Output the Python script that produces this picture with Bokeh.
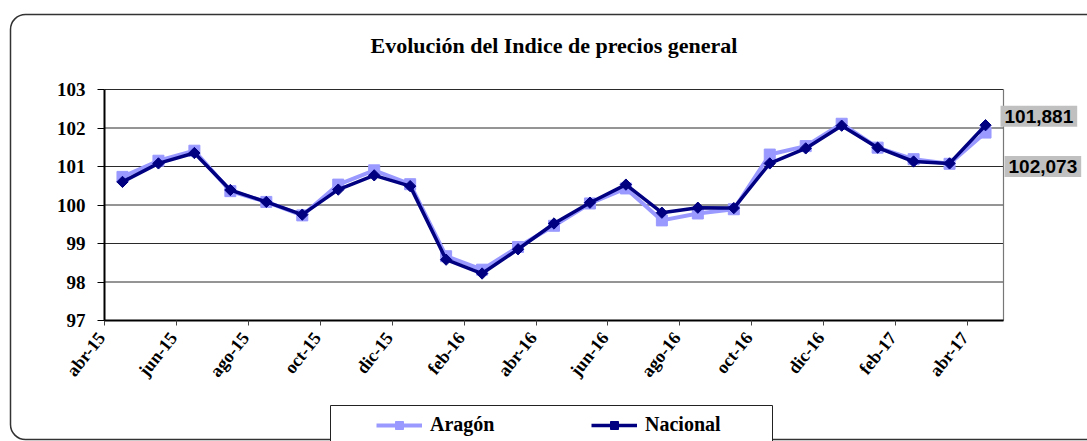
import numpy as np
from bokeh.plotting import figure
from bokeh.models import (Range1d, FixedTicker, Legend, LegendItem, Label,
                          BoxAnnotation, ColumnDataSource)
from bokeh.core.properties import value
from bokeh.embed import file_html
from bokeh.resources import INLINE

# ---------------- data ----------------
months = ["abr-15", "may-15", "jun-15", "jul-15", "ago-15", "sep-15", "oct-15",
          "nov-15", "dic-15", "ene-16", "feb-16", "mar-16", "abr-16", "may-16",
          "jun-16", "jul-16", "ago-16", "sep-16", "oct-16", "nov-16", "dic-16",
          "ene-17", "feb-17", "mar-17", "abr-17"]
aragon = [100.73, 101.15, 101.41, 100.36, 100.08, 99.73, 100.53, 100.90, 100.54,
          98.67, 98.32, 98.91, 99.46, 100.04, 100.43, 99.60, 99.78, 99.89,
          101.31, 101.53, 102.11, 101.49, 101.19, 101.07, 101.881]
nacional = [100.60, 101.08, 101.35, 100.39, 100.08, 99.75, 100.40, 100.77, 100.49,
            98.58, 98.22, 98.85, 99.52, 100.06, 100.53, 99.80, 99.93, 99.92,
            101.08, 101.47, 102.06, 101.49, 101.13, 101.08, 102.073]
y_ticks = [97, 98, 99, 100, 101, 102, 103]
title_text = "Evolución del Indice de precios general"
series_names = ["Aragón", "Nacional"]

SERIF = "Liberation Serif"
SANS = "Liberation Sans"

# ---------------- layout (canvas pixels) ----------------
W, H = 1087, 441
L, R, T, B = 104, 1003, 89, 320          # plot area inside the canvas
n = len(months)
x0, x1 = -0.5, n - 0.5
y0, y1 = y_ticks[0], y_ticks[-1]
sxp = (R - L) / (x1 - x0)
syp = (B - T) / (y1 - y0)
xr = Range1d(x0 - L / sxp, x1 + (W - R) / sxp)
yr = Range1d(y0 - (H - B) / syp, y1 + T / syp)


def dx(px):
    return xr.start + px / sxp


def dy(py):
    return yr.end - py / syp


x = list(range(n))
src = ColumnDataSource(dict(x=x, aragon=aragon, nacional=nacional))

p = figure(width=W, height=H, output_backend="svg", toolbar_location=None,
           x_range=xr, y_range=yr, min_border=0, title=None)
p.background_fill_color = "white"
p.border_fill_color = "white"
p.outline_line_color = None

# chart outer border
p.add_layout(BoxAnnotation(left=dx(10), right=dx(1100), top=dy(14), bottom=dy(439),
                           fill_color=None, fill_alpha=0, line_color="#333333",
                           line_alpha=1, line_width=1.5,
                           border_radius=15, level="underlay"))

# grid lines (from the y ticks) and plot-area border
p.segment(x0=[x0] * len(y_ticks), x1=[x1] * len(y_ticks), y0=y_ticks, y1=y_ticks,
          line_color="#2a2a2a", line_width=1)
p.segment(x0=[x1], x1=[x1], y0=[y0], y1=[y1], line_color="#777777", line_width=1.2)

# axes
tick_idx = list(range(0, n, 2))
tick_pos = [i - 0.5 for i in tick_idx]
p.xaxis.fixed_location = y0
p.xaxis.bounds = (x0, x1)
p.xaxis.ticker = FixedTicker(ticks=tick_pos)
p.xaxis.major_label_overrides = {t: "" for t in tick_pos}
p.xaxis.major_tick_out = 5
p.xaxis.major_tick_in = 0
p.xaxis.minor_tick_line_color = None
p.xaxis.axis_line_width = 2
p.xaxis.axis_line_color = "black"
p.xaxis.major_tick_line_color = "#444444"

# slanted month labels at the ticks
p.text(x=tick_pos, y=[y0] * len(tick_pos), text=[months[i] for i in tick_idx],
       angle=0.9, text_align="right", text_baseline="middle",
       x_offset=-3, y_offset=14,
       text_font=value(SERIF), text_font_style="bold", text_font_size="18px",
       text_color="black")

p.yaxis.fixed_location = x0
p.yaxis.bounds = (y0, y1)
p.yaxis.ticker = FixedTicker(ticks=y_ticks)
p.yaxis.major_label_text_font = SERIF
p.yaxis.major_label_text_font_style = "bold"
p.yaxis.major_label_text_font_size = "19px"
p.yaxis.major_label_text_color = "black"
p.yaxis.major_tick_out = 7
p.yaxis.major_tick_in = 0
p.yaxis.minor_tick_line_color = None
p.yaxis.axis_line_width = 2
p.yaxis.axis_line_color = "black"
p.yaxis.major_label_standoff = 12

p.xgrid.grid_line_color = None
p.ygrid.grid_line_color = None

# series
l_ar = p.line("x", "aragon", source=src, line_color="#9999FF", line_width=4)
s_ar = p.scatter("x", "aragon", source=src, marker="square", size=11,
                 fill_color="#9999FF", line_color="#9999FF")
l_na = p.line("x", "nacional", source=src, line_color="#000080", line_width=3.5)
s_na = p.scatter("x", "nacional", source=src, marker="square", size=8, angle=np.pi / 4,
                 fill_color="#000080", line_color="#000080")

# title
p.add_layout(Label(x=(x0 + x1) / 2, y=dy(45), text=title_text,
                   text_font=SERIF, text_font_style="bold", text_font_size="22px",
                   text_align="center", text_baseline="alphabetic", text_color="black"))

# value labels of the last point
last = n - 1
p.add_layout(Label(x=last, y=nacional[-1], x_offset=15, y_offset=9,
                   text=f"{aragon[-1]:.3f}".replace(".", ","),
                   text_font=SANS, text_font_style="bold", text_font_size="19px",
                   text_align="left", text_baseline="middle", text_color="black",
                   background_fill_color="#C0C0C0", padding=4))
p.add_layout(Label(x=last, y=aragon[-1], x_offset=19, y_offset=-34,
                   text=f"{nacional[-1]:.3f}".replace(".", ","),
                   text_font=SANS, text_font_style="bold", text_font_size="19px",
                   text_align="left", text_baseline="middle", text_color="black",
                   background_fill_color="#C0C0C0", padding=4))

# legend
p.add_layout(BoxAnnotation(left=dx(330), right=dx(772), top=dy(405), bottom=dy(455),
                           fill_color="white", fill_alpha=1, line_color="#222222",
                           line_alpha=1, line_width=1, level="overlay"))
legend = Legend(items=[LegendItem(label=series_names[0], renderers=[l_ar, s_ar]),
                       LegendItem(label=series_names[1], renderers=[l_na, s_na])],
                orientation="horizontal", location=(376, H - 436),
                glyph_width=46, glyph_height=20, label_standoff=8,
                label_width=150, spacing=11, padding=0, margin=0,
                border_line_color=None, background_fill_alpha=0,
                label_text_font=SERIF, label_text_font_style="bold",
                label_text_font_size="20px", label_text_color="black")
p.add_layout(legend, "center")

open("out.html", "w").write(file_html(p, INLINE))
